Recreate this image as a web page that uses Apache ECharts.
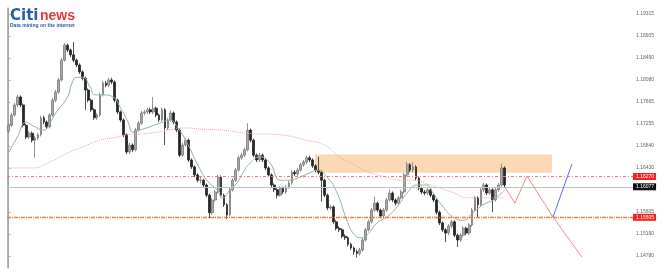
<!DOCTYPE html>
<html>
<head>
<meta charset="utf-8">
<script src="https://cdn.jsdelivr.net/npm/echarts@6/dist/echarts.min.js"></script>
<style>html,body{margin:0;padding:0;background:#fff;}#c{width:668px;height:274px;}</style>
</head>
<body>
<div id="c"></div>
<script>
// ---- data ----
const opens = [1.1712,1.1723,1.1742,1.1761,1.1776,1.1761,1.1723,1.1701,1.1708,1.1695,
1.1699,1.1705,1.1737,1.1729,1.1720,1.1742,1.1770,1.1785,1.1808,1.1845,
1.1873,1.1864,1.1855,1.1845,1.1836,1.1823,1.1811,1.1789,1.1770,1.1752,
1.1737,1.1742,1.1780,1.1802,1.1798,1.1808,1.1804,1.1770,1.1748,1.1733,
1.1705,1.1673,1.1686,1.1677,1.1714,1.1727,1.1746,1.1748,1.1752,1.1748,
1.1755,1.1742,1.1733,1.1752,1.1718,1.1733,1.1746,1.1729,1.1714,1.1667,
1.1686,1.1695,1.1658,1.1645,1.1630,1.1620,1.1620,1.1611,1.1592,1.1559,
1.1583,1.1598,1.1626,1.1592,1.1574,1.1555,1.1602,1.1620,1.1639,1.1662,
1.1667,1.1677,1.1714,1.1695,1.1667,1.1658,1.1667,1.1658,1.1643,1.1630,
1.1611,1.1602,1.1592,1.1605,1.1598,1.1607,1.1615,1.1635,1.1632,1.1639,
1.1649,1.1654,1.1662,1.1658,1.1647,1.1639,1.1635,1.1620,1.1592,1.1568,
1.1570,1.1542,1.1530,1.1527,1.1515,1.1512,1.1500,1.1493,1.1486,1.1483,
1.1489,1.1508,1.1527,1.1542,1.1564,1.1577,1.1564,1.1553,1.1564,1.1583,
1.1596,1.1583,1.1577,1.1587,1.1598,1.1630,1.1649,1.1639,1.1645,1.1624,
1.1605,1.1598,1.1596,1.1602,1.1592,1.1583,1.1560,1.1540,1.1527,1.1521,
1.1534,1.1542,1.1517,1.1508,1.1517,1.1530,1.1521,1.1536,1.1564,1.1587,
1.1574,1.1602,1.1611,1.1596,1.1602,1.1583,1.1602,1.1611,1.1643];

const closes = [1.1723,1.1742,1.1761,1.1776,1.1761,1.1723,1.1701,1.1708,1.1695,1.1699,
1.1705,1.1737,1.1729,1.1720,1.1742,1.1770,1.1785,1.1808,1.1845,1.1873,
1.1864,1.1855,1.1845,1.1836,1.1823,1.1811,1.1789,1.1770,1.1752,1.1737,
1.1742,1.1780,1.1802,1.1798,1.1808,1.1804,1.1770,1.1748,1.1733,1.1705,
1.1673,1.1686,1.1677,1.1714,1.1727,1.1746,1.1748,1.1752,1.1748,1.1755,
1.1742,1.1733,1.1752,1.1718,1.1733,1.1746,1.1729,1.1714,1.1667,1.1686,
1.1695,1.1658,1.1645,1.1630,1.1620,1.1620,1.1611,1.1592,1.1559,1.1583,
1.1598,1.1626,1.1592,1.1574,1.1555,1.1602,1.1620,1.1639,1.1662,1.1667,
1.1677,1.1714,1.1695,1.1667,1.1658,1.1667,1.1658,1.1643,1.1630,1.1611,
1.1602,1.1592,1.1605,1.1598,1.1607,1.1615,1.1635,1.1632,1.1639,1.1649,
1.1654,1.1662,1.1658,1.1647,1.1639,1.1635,1.1620,1.1592,1.1568,1.1570,
1.1542,1.1530,1.1527,1.1515,1.1512,1.1500,1.1493,1.1486,1.1483,1.1489,
1.1508,1.1527,1.1542,1.1564,1.1577,1.1564,1.1553,1.1564,1.1583,1.1596,
1.1583,1.1577,1.1587,1.1598,1.1630,1.1649,1.1639,1.1645,1.1624,1.1605,
1.1598,1.1596,1.1602,1.1592,1.1583,1.1560,1.1540,1.1527,1.1521,1.1534,
1.1542,1.1517,1.1508,1.1517,1.1530,1.1521,1.1536,1.1564,1.1587,1.1574,
1.1602,1.1611,1.1596,1.1602,1.1583,1.1602,1.1611,1.1643,1.1611];

const highs = [1.1727,1.1746,1.1765,1.1780,1.1779,1.1764,1.1726,1.1712,1.1711,1.1703,
1.1709,1.1741,1.1741,1.1732,1.1746,1.1774,1.1789,1.1812,1.1849,1.1877,
1.1876,1.1867,1.1879,1.1848,1.1839,1.1826,1.1814,1.1792,1.1773,1.1755,
1.1746,1.1784,1.1806,1.1806,1.1812,1.1812,1.1807,1.1773,1.1751,1.1736,
1.1708,1.1690,1.1689,1.1718,1.1731,1.1750,1.1752,1.1756,1.1756,1.1776,
1.1758,1.1745,1.1756,1.1755,1.1737,1.1752,1.1749,1.1732,1.1717,1.1690,
1.1699,1.1698,1.1661,1.1648,1.1633,1.1626,1.1623,1.1614,1.1595,1.1587,
1.1602,1.1630,1.1629,1.1595,1.1577,1.1606,1.1624,1.1643,1.1666,1.1671,
1.1681,1.1727,1.1717,1.1698,1.1670,1.1671,1.1670,1.1661,1.1646,1.1633,
1.1614,1.1605,1.1609,1.1608,1.1611,1.1619,1.1639,1.1639,1.1643,1.1653,
1.1658,1.1666,1.1666,1.1661,1.1650,1.1664,1.1638,1.1623,1.1595,1.1574,
1.1573,1.1545,1.1534,1.1530,1.1519,1.1515,1.1503,1.1496,1.1490,1.1493,
1.1512,1.1531,1.1546,1.1568,1.1589,1.1580,1.1567,1.1568,1.1587,1.1603,
1.1599,1.1586,1.1591,1.1602,1.1634,1.1654,1.1652,1.1654,1.1648,1.1627,
1.1608,1.1602,1.1606,1.1605,1.1595,1.1586,1.1563,1.1543,1.1530,1.1538,
1.1546,1.1545,1.1520,1.1521,1.1534,1.1533,1.1540,1.1568,1.1591,1.1590,
1.1606,1.1615,1.1614,1.1606,1.1605,1.1606,1.1615,1.1651,1.1646];

const lows = [1.1708,1.1720,1.1739,1.1757,1.1757,1.1719,1.1697,1.1697,1.1691,1.1662,
1.1695,1.1702,1.1725,1.1716,1.1717,1.1739,1.1766,1.1782,1.1805,1.1842,
1.1860,1.1851,1.1841,1.1832,1.1819,1.1807,1.1752,1.1766,1.1748,1.1733,
1.1733,1.1739,1.1777,1.1794,1.1794,1.1800,1.1766,1.1744,1.1729,1.1701,
1.1669,1.1669,1.1673,1.1674,1.1711,1.1724,1.1742,1.1744,1.1744,1.1744,
1.1738,1.1729,1.1730,1.1686,1.1714,1.1730,1.1725,1.1710,1.1663,1.1664,
1.1683,1.1654,1.1641,1.1626,1.1616,1.1614,1.1607,1.1588,1.1549,1.1555,
1.1580,1.1595,1.1588,1.1570,1.1547,1.1552,1.1599,1.1617,1.1636,1.1658,
1.1663,1.1674,1.1691,1.1663,1.1654,1.1654,1.1654,1.1639,1.1626,1.1607,
1.1598,1.1586,1.1589,1.1594,1.1594,1.1604,1.1612,1.1628,1.1628,1.1636,
1.1645,1.1650,1.1654,1.1643,1.1635,1.1631,1.1580,1.1588,1.1564,1.1564,
1.1538,1.1526,1.1523,1.1511,1.1508,1.1496,1.1489,1.1480,1.1475,1.1479,
1.1486,1.1505,1.1524,1.1539,1.1561,1.1560,1.1549,1.1550,1.1561,1.1580,
1.1579,1.1573,1.1574,1.1584,1.1595,1.1627,1.1635,1.1635,1.1620,1.1601,
1.1594,1.1592,1.1592,1.1588,1.1579,1.1556,1.1536,1.1523,1.1504,1.1517,
1.1530,1.1513,1.1495,1.1504,1.1513,1.1517,1.1517,1.1533,1.1561,1.1551,
1.1571,1.1598,1.1592,1.1592,1.1560,1.1580,1.1598,1.1608,1.1607];

// moving averages read as [bar index, price]
const maFast = [[0,1.1671],[3,1.1701],[6,1.1729],[8,1.1723],[12,1.1714],[14,1.1727],[16,1.1746],[20,1.1776],[21.5,1.1802],[23.2,1.1813],[25.2,1.1813],[27.6,1.1795],[29.3,1.1780],[32,1.1780],[35.4,1.1776],[37.8,1.1757],[40.5,1.1729],[42.2,1.1710],[44.5,1.1714],[47.9,1.1720],[51.3,1.1727],[54.7,1.1733],[57.1,1.1720],[60.5,1.1690],[63.8,1.1652],[67.2,1.1620],[70.6,1.1602],[72.6,1.1587],[75,1.1602],[77.4,1.1615],[79.4,1.1634],[81.8,1.1652],[85.2,1.1664],[88.6,1.1652],[92,1.1620],[95.3,1.1620],[98.7,1.1626],[102.1,1.1634],[104.5,1.1639],[107.9,1.1626],[111.3,1.1596],[114.6,1.1545],[116.7,1.1521],[119.2,1.1512],[121.4,1.1517],[124.8,1.1540],[128.2,1.1551],[131.6,1.1570],[135,1.1596],[138.3,1.1611],[141.7,1.1611],[143.8,1.1596],[147.2,1.1570],[150.5,1.1551],[153.9,1.1545],[157.3,1.1559],[160.7,1.1574],[164.1,1.1583],[168.1,1.1602]];
const maSlow = [[-0.5,1.1643],[8,1.1643],[14,1.1654],[20,1.1671],[25,1.1682],[31,1.1695],[37,1.1701],[40,1.1705],[48,1.1708],[54,1.1714],[60,1.1718],[65,1.1716],[72,1.1714],[81,1.1708],[92,1.1705],[101,1.1695],[107,1.1686],[112,1.1664],[117,1.1649],[122,1.1635],[128,1.1626],[133,1.1620],[136,1.1620],[143,1.1611],[150,1.1598],[156,1.1587],[163,1.1587],[168,1.1587]];

// projected paths
const projDown = [[168.1,1.1607],[171.5,1.1577],[175.6,1.1628],[184.4,1.1551],[194.2,1.1476]];
const projUp = [[184.4,1.1551],[190.8,1.1650]];

// resistance zone
const zoneFrom = 103.8, zoneTo = 184.1, zoneLow = 1.1634, zoneHigh = 1.1668;

// horizontal levels
const levelValues = [1.16270, 1.16077, 1.15505];
const levelLabels = ['1.16270', '1.16077', '1.15505'];

// axis tick labels
const tickValues = [1.14780, 1.15190, 1.15605, 1.16430, 1.16840, 1.17255, 1.17665, 1.18080, 1.18490, 1.18905, 1.19315];

const slotCount = 212;
const yMin = 1.145551, yMax = 1.194274;

// ---- build ----
const cats = [];
for (let i = 0; i < slotCount; i++) cats.push(String(i));
const ohlc = closes.map((c, i) => [opens[i], c, lows[i], highs[i]]);

const chart = echarts.init(document.getElementById('c'), null, {renderer: 'canvas'});
const lvlStyles = [
  {color: '#e87a7a', width: 1, type: [3, 2, 1, 2]},
  {color: '#b9c3c3', width: 1, type: 'solid'},
  {color: '#f07a4a', width: 1.3, type: [4, 1, 1, 1]}
];
const lvlBg = ['#f02222', '#111111', '#f02222'];

const levelLines = levelValues.map((v, i) => [
  {coord: [-0.5, v], lineStyle: lvlStyles[i],
   label: {show: true, position: 'end', distance: 0, formatter: levelLabels[i],
     color: '#fff', fontSize: 5, fontFamily: 'Liberation Sans',
     backgroundColor: lvlBg[i], padding: [1, 2, 1, 3]}},
  {coord: [slotCount - 0.5, v]}
]);

chart.setOption({
  animation: false,
  backgroundColor: '#ffffff',
  grid: {left: 7, right: 35, top: 8, bottom: 6},
  xAxis: [
    {type: 'category', data: cats, boundaryGap: true, show: false},
    {type: 'value', min: -0.5, max: slotCount - 0.5, show: false}
  ],
  yAxis: [
    {
      type: 'value', position: 'right', min: yMin, max: yMax,
      axisLine: {show: true, lineStyle: {color: '#a8a8a8', width: 1}},
      axisTick: {show: true, length: 2, lineStyle: {color: '#a8a8a8'}, customValues: tickValues},
      splitLine: {show: false},
      axisLabel: {
        show: true, margin: 3, fontSize: 5, color: '#666', fontFamily: 'Liberation Sans',
        customValues: tickValues,
        formatter: v => v.toFixed(5)
      }
    },
    {
      type: 'value', position: 'left', min: yMin, max: yMax,
      axisLine: {show: true, lineStyle: {color: '#b5b5b5', width: 1}},
      axisTick: {show: false}, axisLabel: {show: false}, splitLine: {show: false}
    }
  ],
  series: [
    {
      type: 'line', xAxisIndex: 1, yAxisIndex: 0, data: [], z: 1, silent: true,
      markArea: {
        silent: true,
        itemStyle: {color: '#fcd9b4', opacity: 1},
        data: [[{coord: [zoneFrom, zoneHigh]}, {coord: [zoneTo, zoneLow]}]]
      }
    },
    {
      type: 'candlestick', xAxisIndex: 0, yAxisIndex: 0, data: ohlc, z: 3,
      barWidth: '78%',
      itemStyle: {color: '#a9a9a9', color0: '#262626', borderColor: '#7a7a7a', borderColor0: '#262626', borderWidth: 0.8}
    },
    {
      type: 'line', xAxisIndex: 1, yAxisIndex: 0, data: maSlow, smooth: true, showSymbol: false, z: 4,
      lineStyle: {color: '#f2a3a3', width: 1, type: 'dotted'}
    },
    {
      type: 'line', xAxisIndex: 1, yAxisIndex: 0, data: maFast, smooth: true, showSymbol: false, z: 4,
      lineStyle: {color: '#8fb899', width: 1}
    },
    {
      type: 'line', xAxisIndex: 1, yAxisIndex: 0, data: projDown, showSymbol: false, z: 5,
      lineStyle: {color: '#f08a8a', width: 1}
    },
    {
      type: 'line', xAxisIndex: 1, yAxisIndex: 0, data: projUp, showSymbol: false, z: 5,
      lineStyle: {color: '#6b6be3', width: 1}
    },
    {
      type: 'line', xAxisIndex: 1, yAxisIndex: 0, data: [], z: 6, silent: true,
      markLine: {silent: true, symbol: 'none', data: levelLines}
    }
  ],
  graphic: [
    {type: 'text', left: 10, top: 9, z: 10, style: {text: 'Citi', fill: '#2c5ea6', fontSize: 15, fontWeight: 'bold', fontFamily: 'DejaVu Sans'}},
    {type: 'text', left: 40, top: 9, z: 10, style: {text: 'news', fill: '#e0383f', fontSize: 14, fontWeight: 'bold', fontFamily: 'Liberation Sans'}},
    {type: 'text', left: 10, top: 23, z: 10, style: {text: 'Data mining on the internet', fill: '#2c5ea6', fontSize: 5, fontWeight: 'bold', fontFamily: 'Liberation Sans'}}
  ]
});
</script>
</body>
</html>
